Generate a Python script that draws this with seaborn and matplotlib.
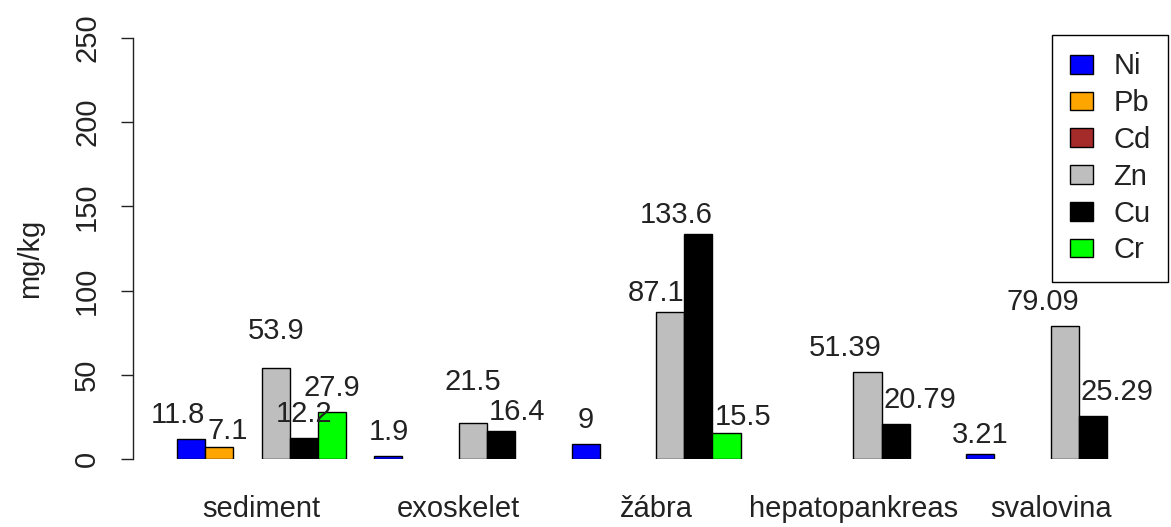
import numpy as np
import pandas as pd
import seaborn as sns
import matplotlib.pyplot as plt
from matplotlib.patches import Patch

# data (NaN = no bar drawn)
tissues = ["sediment", "exoskelet", "žábra", "hepatopankreas", "svalovina"]
metals = ["Ni", "Pb", "Cd", "Zn", "Cu", "Cr"]
ni = [11.8, 1.9, 9, np.nan, 3.21]
pb = [7.1, np.nan, np.nan, np.nan, np.nan]
cd = [np.nan, np.nan, np.nan, np.nan, np.nan]
zn = [53.9, 21.5, 87.1, 51.39, 79.09]
cu = [12.2, 16.4, 133.6, 20.79, 25.29]
cr = [27.9, np.nan, 15.5, np.nan, np.nan]
colors = ["#0000FF", "#FFA500", "#A52A2A", "#BEBEBE", "#000000", "#00FF00"]

rows = []
for m, vals in zip(metals, [ni, pb, cd, zn, cu, cr]):
    for t, v in zip(tissues, vals):
        rows.append({"tissue": t, "metal": m, "value": v})
df = pd.DataFrame(rows)

# how each value label sits against its bar: c = centred, l = from left edge, r = to right edge
label_side = {("sediment", "Ni"): "r", ("sediment", "Pb"): "l",
              ("exoskelet", "Cu"): "l",
              ("žábra", "Zn"): "r", ("žábra", "Cu"): "r", ("žábra", "Cr"): "l",
              ("hepatopankreas", "Zn"): "r", ("hepatopankreas", "Cu"): "l",
              ("svalovina", "Zn"): "r", ("svalovina", "Cu"): "l"}
# labels lifted a bit more / less so they don't collide
label_lift = {("sediment", "Zn"): 8, ("exoskelet", "Zn"): 10,
              ("sediment", "Pb"): -5, ("žábra", "Cr"): -5,
              ("exoskelet", "Cu"): -3, ("žábra", "Cu"): -3, ("žábra", "Zn"): -3,
              ("svalovina", "Ni"): -3}

sns.set_style("white")
plt.rcParams["font.family"] = ["Liberation Sans", "DejaVu Sans"]
FS = 21

W, H = 1171, 527
fig = plt.figure(figsize=(W / 100, H / 100), dpi=100)
ax = fig.add_axes([133 / W, (H - 459) / H, (W - 133) / W, (459 - 38) / H])

group_w = 6 / 7
sns.barplot(data=df.dropna(), x="tissue", y="value", hue="metal",
            order=tissues, hue_order=metals, palette=colors, saturation=1,
            width=group_w, edgecolor="black", linewidth=1,
            errorbar=None, legend=False, ax=ax)

bw = group_w / len(metals)
for _, r in df.dropna().iterrows():
    key = (r["tissue"], r["metal"])
    xc = tissues.index(r["tissue"]) + (metals.index(r["metal"]) - 2.5) * bw
    side = label_side.get(key, "c")
    if side == "l":
        x, ha = xc - bw / 2 + 0.01, "left"
    elif side == "r":
        x, ha = xc + bw / 2, "right"
    else:
        x, ha = xc, "center"
    ax.text(x, r["value"] + 6 + label_lift.get(key, 0), f"{r['value']:g}",
            ha=ha, va="bottom", fontsize=FS, color="#222222", clip_on=False)

ax.set_xlim((133 - 261.6) / 197.25, (W - 261.6) / 197.25)
ax.set_ylim(0, 250)
ax.set_yticks([0, 50, 100, 150, 200, 250])
ax.set_xlabel("")
ax.set_ylabel("")

for s in ["top", "right", "bottom"]:
    ax.spines[s].set_visible(False)
ax.spines["left"].set_color("#222222")
ax.spines["left"].set_linewidth(1)
ax.spines["left"].set_bounds(0, 250)

ax.tick_params(axis="y", length=9, width=1, color="#222222", pad=14,
               labelsize=FS, labelcolor="#222222", left=True)
for lab in ax.get_yticklabels():
    lab.set_rotation(90)
    lab.set_va("center")
    lab.set_ha("right")
ax.tick_params(axis="x", length=0, pad=26, labelsize=FS, labelcolor="#222222")

fig.text(30 / W, 1 - 258 / H, "mg/kg", rotation=90, ha="center", va="center",
         fontsize=FS, color="#222222")

handles = [Patch(facecolor=c, edgecolor="black", linewidth=1) for c in colors]
leg = fig.legend(handles, metals, loc="upper right",
                 bbox_to_anchor=(1168 / W, 1 - 35 / H), borderaxespad=0,
                 fontsize=FS, frameon=True, fancybox=False, framealpha=1,
                 edgecolor="black", handlelength=0.8, handleheight=0.62,
                 handletextpad=0.7, labelspacing=0.3, borderpad=0.6)
leg.get_frame().set_linewidth(1)
for t in leg.get_texts():
    t.set_color("#222222")

fig.savefig("out.png", dpi=100)
